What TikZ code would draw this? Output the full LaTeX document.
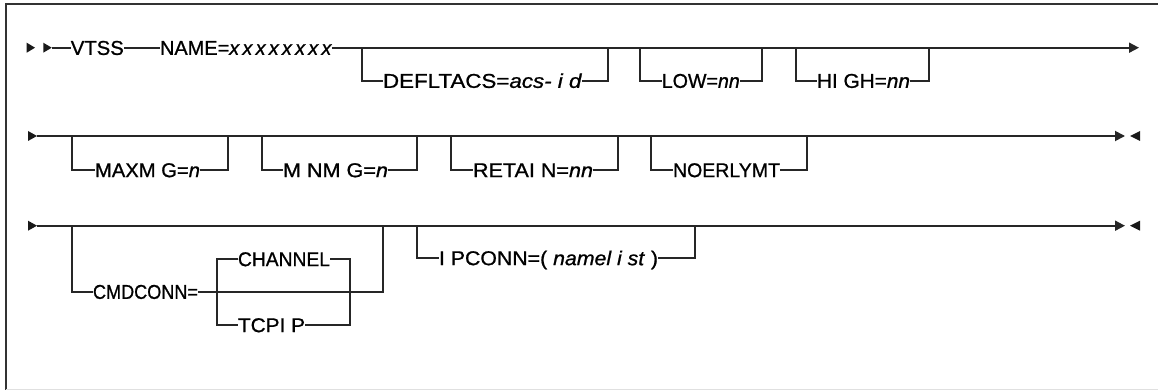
\documentclass[tikz,border=0pt]{standalone}
\usepackage{fontspec}
\setmainfont{Liberation Sans}[FakeBold=0.9]
\usetikzlibrary{arrows.meta}
\newcommand\fw[2]{\resizebox{#1pt}{\height}{#2}}
\begin{document}
\begin{tikzpicture}[x=1pt,y=-1pt,
  ln/.style={line width=1.8pt,draw=black!85},
  lbl/.style={inner sep=0pt,text height=14.3pt,text depth=0pt,text=black,font=\fontsize{20}{24}\selectfont},
  endtip/.style={-{Triangle[length=10pt,width=10pt]}},
  tri/.style={fill=black!90}]
\useasboundingbox (0,0) rectangle (1158,390);
% frame
\draw[line width=2pt,black!80] (6,390) -- (6,4.5) -- (1158,4.5);
\draw[line width=1pt,black!12] (6,389) -- (1158,389);

% ---------- row 1 ----------
\fill[tri] (26.7,42.7) -- (35,47.7) -- (26.7,52.7) -- cycle;
\fill[tri] (43.3,42.7) -- (51.7,47.7) -- (43.3,52.7) -- cycle;
\coordinate (s1) at (51.7,47.7);
\coordinate (e1) at (1139,47.7);
\node[lbl] (vtss) at (97.3,47.7) {\fw{53}{VTSS}};
\node[lbl] (name) at (246,47.7) {\fw{172}{NAME=\textit{x\kern3.2pt x\kern3.2pt x\kern3.2pt x\kern3.2pt x\kern3.2pt x\kern3.2pt x\kern3.2pt x}}};
\node[lbl] (defl) at (482.5,80.7) {\fw{199}{DEFLTACS=\textit{acs- i d}}};
\node[lbl] (low) at (700.8,80.7) {\fw{78}{LOW=\textit{nn}}};
\node[lbl] (high) at (863.5,80.7) {\fw{93}{HI GH=\textit{nn}}};
\draw[ln] (s1) -- (vtss);
\draw[ln] (vtss) -- (name);
\draw[ln,endtip] (name) -- (e1);
\draw[ln] (362,47.7) |- (defl.west);
\draw[ln] (defl.east) -| (607.7,47.7);
\draw[ln] (640,47.7) |- (low.west);
\draw[ln] (low.east) -| (761.7,47.7);
\draw[ln] (795.7,47.7) |- (high.west);
\draw[ln] (high.east) -| (929,47.7);

% ---------- row 2 ----------
\fill[tri] (28,131) -- (37,136) -- (28,141) -- cycle;
\coordinate (s2) at (37,136);
\coordinate (e2) at (1125,136);
\fill[tri] (1140,131) -- (1130,136) -- (1140,141) -- cycle;
\draw[ln,endtip] (s2) -- (e2);
\node[lbl] (maxmig) at (147.5,170) {\fw{105}{MAXM G=\textit{n}}};
\node[lbl] (minmig) at (335.5,170) {\fw{105}{M NM G=\textit{n}}};
\node[lbl] (retain) at (533,170) {\fw{120}{RETAI N=\textit{nn}}};
\node[lbl] (noerly) at (726.5,170) {\fw{107}{NOERLYMT}};
\draw[ln] (72,136) |- (maxmig.west);
\draw[ln] (maxmig.east) -| (228,136);
\draw[ln] (262,136) |- (minmig.west);
\draw[ln] (minmig.east) -| (417,136);
\draw[ln] (451,136) |- (retain.west);
\draw[ln] (retain.east) -| (618,136);
\draw[ln] (651,136) |- (noerly.west);
\draw[ln] (noerly.east) -| (807,136);

% ---------- row 3 ----------
\fill[tri] (28,220.7) -- (37,225.7) -- (28,230.7) -- cycle;
\coordinate (s3) at (37,225.7);
\coordinate (e3) at (1125,225.7);
\fill[tri] (1140,220.7) -- (1130,225.7) -- (1140,230.7) -- cycle;
\draw[ln,endtip] (s3) -- (e3);
\node[lbl] (cmd) at (145.5,291.7) {\fw{105}{CMDCONN=}};
\node[lbl] (chan) at (284,259) {\fw{92}{CHANNEL}};
\node[lbl] (tcp) at (271.5,325) {\fw{67}{TCPI P}};
\node[lbl] (ipc) at (548.5,258) {\fw{219}{I PCONN=( \textit{namel i st} )}};
\draw[ln] (72,225.7) |- (cmd.west);
\draw[ln] (cmd.east) -| (383,225.7);
\draw[ln] (chan.west) -| (217,325) -- (tcp.west);
\draw[ln] (chan.east) -| (350,325) -- (tcp.east);
\draw[ln] (417,225.7) |- (ipc.west);
\draw[ln] (ipc.east) -| (695,225.7);
\end{tikzpicture}
\end{document}
